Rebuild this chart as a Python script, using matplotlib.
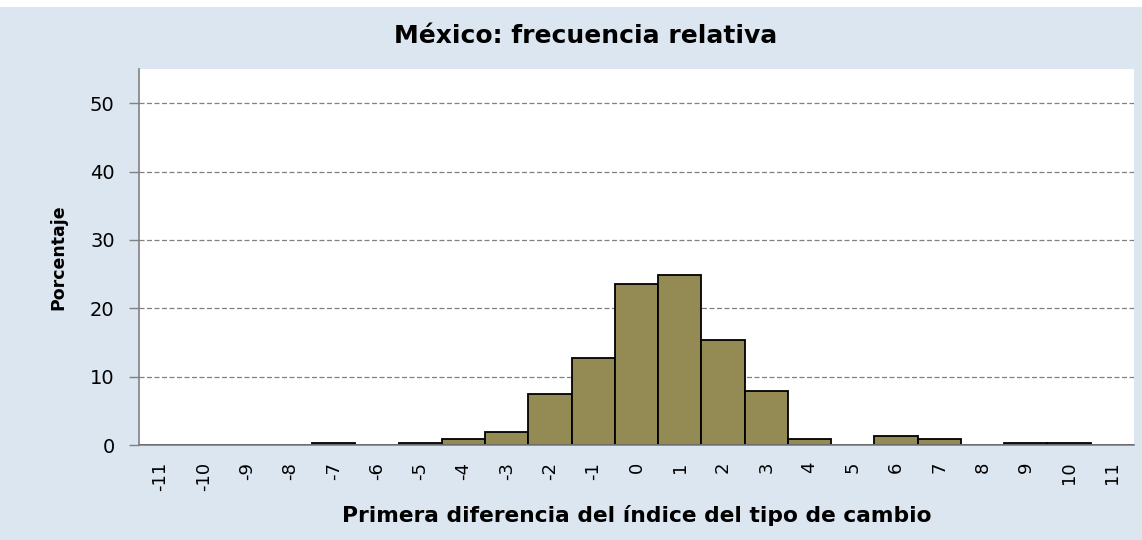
import matplotlib
matplotlib.use("Agg")
import matplotlib.pyplot as plt
from matplotlib.patches import Rectangle

categories = list(range(-11, 12))
values = [0, 0, 0, 0, 0.35, 0, 0.35, 0.9, 1.85, 7.5, 12.7, 23.5, 24.9, 15.4, 7.9, 0.9, 0, 1.35, 0.9, 0, 0.35, 0.35, 0]
yticks = [0, 10, 20, 30, 40, 50]

plt.rcParams['font.family'] = ['DejaVu Sans']

bg = '#DCE6F1'
fig = plt.figure(figsize=(11.42, 5.40), dpi=100, facecolor=bg)
fig.patches.append(Rectangle((0, 0.987), 1, 0.013, transform=fig.transFigure,
                             facecolor='white', edgecolor='none', zorder=-1))
ax = fig.add_axes([0.1217, 0.1759, 0.993 - 0.1217, 0.8722 - 0.1759])
ax.set_facecolor('white')

ax.bar(categories, values, width=1.0, color='#948A54', edgecolor='black', linewidth=1.3, zorder=3)

ax.set_xlim(-11.5, 11.5)
ax.set_ylim(0, 55)
ax.set_yticks(yticks)
ax.set_xticks(categories)
ax.set_xticklabels([str(c) for c in categories], rotation=90, fontsize=13)
ax.tick_params(axis='y', labelsize=14, length=7, color='#808080', width=1, pad=10.5, direction='out')
ax.tick_params(axis='x', length=0, pad=12)

for y in yticks[1:]:
    ax.axhline(y, color='#808080', linestyle=(0, (4, 2)), linewidth=0.9, zorder=1)

for s in ['top', 'right']:
    ax.spines[s].set_visible(False)
for s in ['left', 'bottom']:
    ax.spines[s].set_color('#808080')
    ax.spines[s].set_linewidth(1.2)
ax.spines['bottom'].set_zorder(4)

fig.text(0.513, 0.934, 'México: frecuencia relativa', ha='center', va='center',
         fontsize=18, fontweight='bold')
fig.text(0.558, 0.046, 'Primera diferencia del índice del tipo de cambio', ha='center', va='center',
         fontsize=15.7, fontweight='bold')
fig.text(0.051, 0.524, 'Porcentaje', ha='center', va='center', rotation=90,
         fontsize=12.5, fontweight='bold')

fig.savefig('out.png', dpi=100, facecolor=bg)
